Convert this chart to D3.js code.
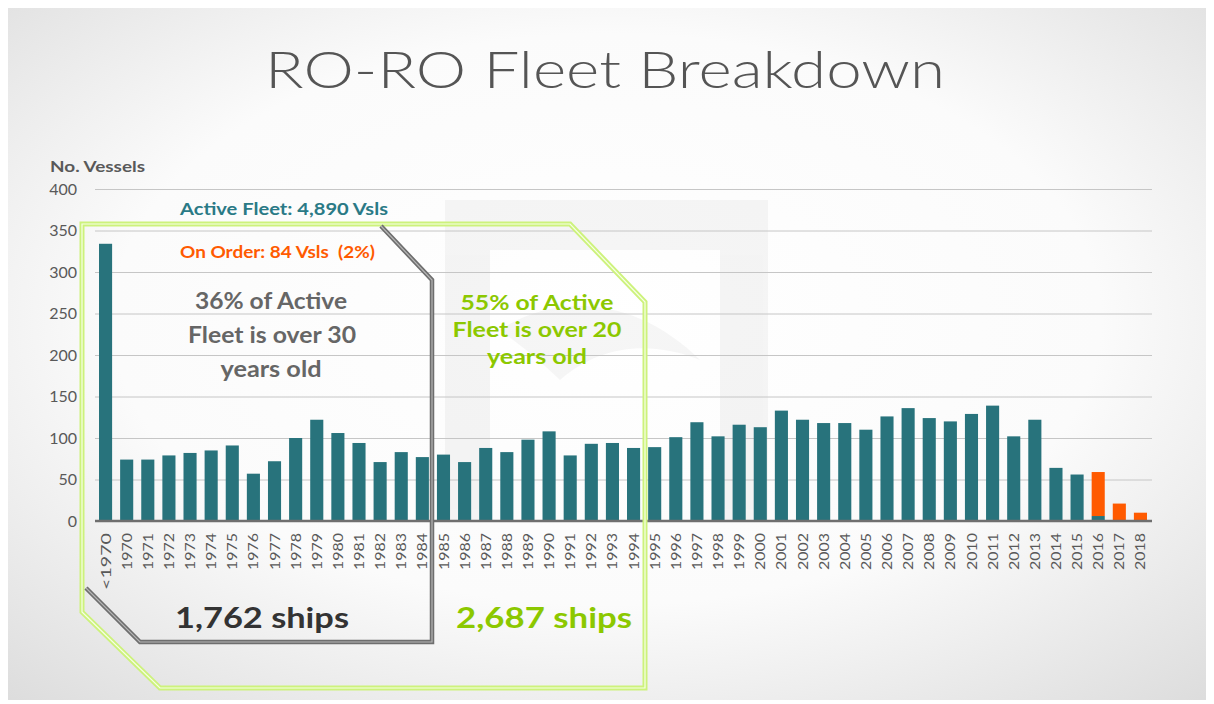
<!DOCTYPE html>
<html><head><meta charset="utf-8">
<script src="https://cdn.jsdelivr.net/npm/d3@7"></script>
<style>body{margin:0;background:#fff;} svg{display:block;}</style>
</head><body>
<svg id="c" width="1214" height="704"></svg>
<script>
const categories = ["<1970","1970","1971","1972","1973","1974","1975","1976","1977","1978","1979","1980","1981","1982","1983","1984","1985","1986","1987","1988","1989","1990","1991","1992","1993","1994","1995","1996","1997","1998","1999","2000","2001","2002","2003","2004","2005","2006","2007","2008","2009","2010","2011","2012","2013","2014","2015","2016","2017","2018"];
const activeFleet = [334,74,74,79,82,85,91,57,72,100,122,106,94,71,83,77,80,71,88,83,98,108,79,93,94,88,89,101,119,102,116,113,133,122,118,118,110,126,136,124,120,129,139,102,122,64,56,6,0,0];
const onOrder = [0,0,0,0,0,0,0,0,0,0,0,0,0,0,0,0,0,0,0,0,0,0,0,0,0,0,0,0,0,0,0,0,0,0,0,0,0,0,0,0,0,0,0,0,0,0,0,53,21,10];
const yTicks = [0,50,100,150,200,250,300,350,400];

const svg = d3.select("#c");
const defs = svg.append("defs");
const rg = defs.append("radialGradient").attr("id","bg").attr("cx","50%").attr("cy","45%").attr("r","75%");
rg.append("stop").attr("offset","0%").attr("stop-color","#ffffff");
rg.append("stop").attr("offset","55%").attr("stop-color","#fbfbfb");
rg.append("stop").attr("offset","100%").attr("stop-color","#dcdcdc");
svg.append("rect").attr("x",8).attr("y",8).attr("width",1198).attr("height",692).attr("fill","url(#bg)");

// faint watermark
const wm = svg.append("g").attr("opacity",0.55);
wm.append("path").attr("fill","#ececec").attr("fill-rule","evenodd")
  .attr("d","M445,200H768V520H445Z M490,250V520H720V250Z");
wm.append("path").attr("fill","#efefef")
  .attr("d","M500,330 C560,290 640,300 700,360 C650,340 600,345 560,380 C540,360 520,345 500,330Z");

// title
svg.append("text").attr("x",605).attr("y",88).attr("text-anchor","middle")
  .attr("font-family","Lato, 'DejaVu Sans', sans-serif").attr("font-weight",300)
  .attr("font-size",52).attr("fill","#555")
  .attr("textLength",680).attr("lengthAdjust","spacingAndGlyphs")
  .text("RO-RO Fleet Breakdown");

const x = d3.scaleBand().domain(categories).range([95,1151]).paddingInner(0.38).paddingOuter(0.19);
const y = d3.scaleLinear().domain([0,400]).range([521,189]);

// gridlines
const grid = svg.append("g").attr("transform","translate(95,0)")
  .call(d3.axisLeft(y).tickValues(yTicks).tickSize(-1057).tickFormat(""));
grid.select(".domain").remove();
grid.selectAll("line").attr("stroke","#c6c6c6").attr("stroke-width",1);

// y labels
const ya = svg.append("g").attr("transform","translate(77,0)")
  .call(d3.axisLeft(y).tickValues(yTicks).tickSize(0).tickPadding(0));
ya.select(".domain").remove();
ya.selectAll("text").attr("font-family","Lato, sans-serif").attr("font-size",16).attr("fill","#595959");

svg.append("text").attr("x",50).attr("y",172).attr("font-family","Lato, sans-serif")
  .attr("font-weight",700).attr("font-size",16).attr("fill","#595959")
  .attr("textLength",95).attr("lengthAdjust","spacingAndGlyphs").text("No. Vessels");

// bars
const data = categories.map((c,i)=>({c, a:activeFleet[i], o:onOrder[i]}));
svg.append("g").selectAll("rect").data(data).join("rect")
  .attr("x",d=>x(d.c)).attr("width",x.bandwidth())
  .attr("y",d=>y(d.a)).attr("height",d=>y(0)-y(d.a)).attr("fill","#28737c");
svg.append("g").selectAll("rect").data(data.filter(d=>d.o>0)).join("rect")
  .attr("x",d=>x(d.c)).attr("width",x.bandwidth())
  .attr("y",d=>y(d.a+d.o)).attr("height",d=>y(d.a)-y(d.a+d.o)).attr("fill","#ff5a00");

// x axis
const xa = svg.append("g").attr("transform","translate(0,521)")
  .call(d3.axisBottom(x).tickSize(0).tickPadding(0));
xa.select(".domain").attr("stroke","#6f6f6f").attr("stroke-width",2.5).attr("d","M95,0H1152");
xa.selectAll("text").attr("font-family","Lato, sans-serif").attr("font-size",14).attr("fill","#595959")
  .attr("text-anchor","end").attr("transform","rotate(-90)")
  .attr("x",-12).attr("y",0).attr("dy","0.36em")
  .attr("textLength",d=>d.length>4?57:37).attr("lengthAdjust","spacingAndGlyphs");

// annotations: green polygon
const greenPts = "M82,224H570L645,302V688H160L82,612Z";
svg.append("path").attr("d",greenPts).attr("fill","none").attr("stroke","#cdf27c").attr("stroke-width",5);
svg.append("path").attr("d",greenPts).attr("fill","none").attr("stroke","#f7ffe6").attr("stroke-width",1.2);
// gray polygon (visible parts)
const grayPts = "M381,226L432,280V642H140L86,588";
svg.append("path").attr("d",grayPts).attr("fill","none").attr("stroke","#6e6e6e").attr("stroke-width",4.5);
svg.append("path").attr("d",grayPts).attr("fill","none").attr("stroke","#b5b5b5").attr("stroke-width",1.2);

function txt(xp,yp,s,size,col,anchor,len){
  const t = svg.append("text").attr("x",xp).attr("y",yp).attr("text-anchor",anchor||"start")
   .attr("font-family","Lato, 'Open Sans', sans-serif").attr("font-weight",700)
   .attr("font-size",size).attr("fill",col).style("white-space","pre").text(s);
  if(len) t.attr("textLength",len).attr("lengthAdjust","spacingAndGlyphs");
  return t;
}
txt(180,215,"Active Fleet: 4,890 Vsls",17,"#2a7a86","start",208);
txt(180,258,"On Order: 84 Vsls  (2%)",17,"#ff5a00","start",195);
txt(271,309,"36% of Active",22,"#666","middle",152);
txt(272,343,"Fleet is over 30",22,"#666","middle",168);
txt(271,377,"years old",22,"#666","middle",101);
txt(537,310,"55% of Active",20,"#8cc800","middle",153);
txt(537,337,"Fleet is over 20",20,"#8cc800","middle",169);
txt(537,364,"years old",20,"#8cc800","middle",100);
txt(262,628,"1,762 ships",29,"#333","middle",174);
txt(544,628,"2,687 ships",29,"#8cc800","middle",176);
</script>
</body></html>
